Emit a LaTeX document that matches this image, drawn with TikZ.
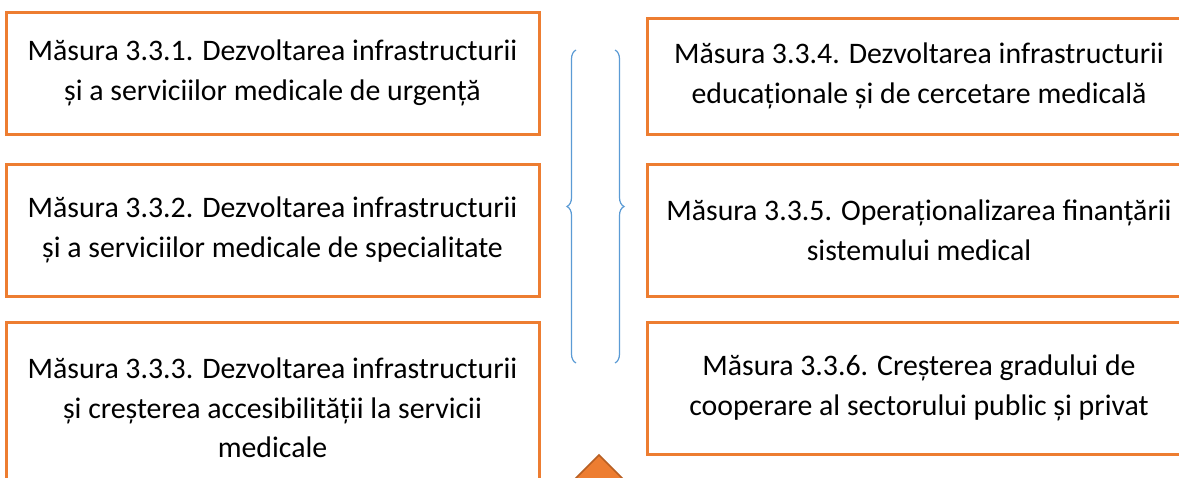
\documentclass[tikz,border=0pt]{standalone}
\usepackage{fontspec}
\setmainfont{Carlito}
\usetikzlibrary{positioning,decorations.pathreplacing}
\definecolor{boxorange}{HTML}{ED7D31}
\definecolor{bracecol}{HTML}{5B9BD5}
\definecolor{arrowedge}{HTML}{B85F23}

\begin{document}
\begin{tikzpicture}[
    x=0.5pt, y=-0.5pt,
    measure/.style={draw=boxorange, line width=1.5pt, align=center, inner sep=0pt, outer sep=0pt,
      font=\fontsize{14.9}{19.8}\selectfont},
    leftbox/.style={measure, minimum width=266.5pt},
    rightbox/.style={measure, minimum width=272pt},
    bracket/.style={draw=bracecol, line width=0.6pt, decorate, decoration={brace, amplitude=4.5pt}}
  ]
  \clip (0,0) rectangle (1179,477);
  \fill[white] (0,0) rectangle (1179,477);

  \node[leftbox, minimum height=61pt] (m1) at (272.5,73)
    {Măsura 3.3.1. Dezvoltarea infrastructurii\\și a serviciilor medicale de urgență};
  \node[leftbox, minimum height=66pt, below=15pt of m1] (m2)
    {Măsura 3.3.2. Dezvoltarea infrastructurii\\și a serviciilor medicale de specialitate};
  \node[leftbox, minimum height=86pt, below=13pt of m2] (m3)
    {Măsura 3.3.3. Dezvoltarea infrastructurii\\și creșterea accesibilității la servicii\\medicale};

  \node[rightbox, minimum height=58pt] (m4) at (919,76)
    {Măsura 3.3.4. Dezvoltarea infrastructurii\\educaționale și de cercetare medicală};
  \node[rightbox, minimum height=66pt, below=15pt of m4] (m5)
    {Măsura 3.3.5. Operaționalizarea finanțării\\sistemului medical};
  \node[rightbox, minimum height=66pt, below=13pt of m5] (m6)
    {Măsura 3.3.6. Creșterea gradului de\\cooperare al sectorului public și privat};

  \coordinate (lb top) at (576,50);
  \coordinate (lb bot) at (576,363);
  \coordinate (rb top) at (615,50);
  \coordinate (rb bot) at (615,363);
  \draw[bracket] (lb bot) -- (lb top);
  \draw[bracket] (rb top) -- (rb bot);

  \filldraw[fill=boxorange, draw=arrowedge, line width=0.8pt] (599,455) -- (645,501) -- (553,501) -- cycle;
\end{tikzpicture}
\end{document}
